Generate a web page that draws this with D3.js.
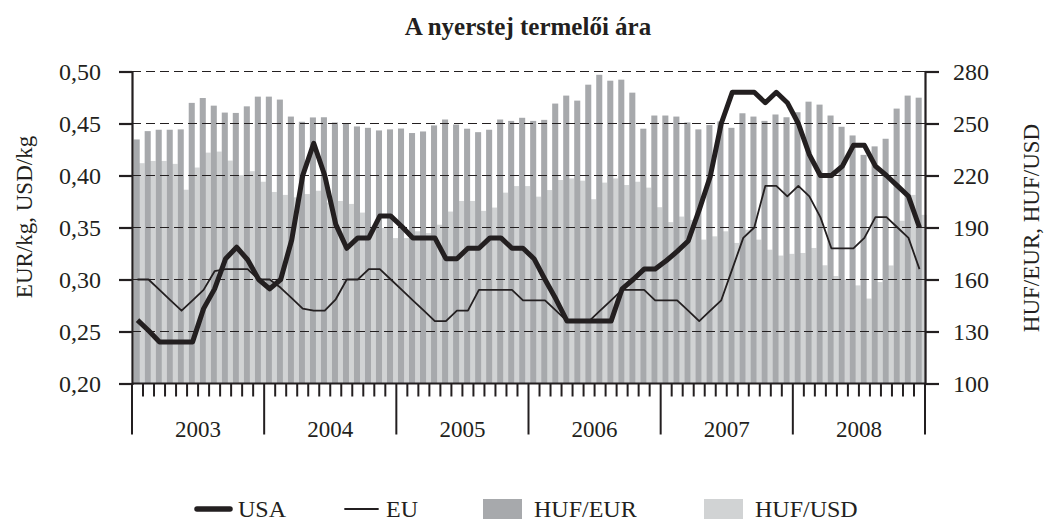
<!DOCTYPE html>
<html>
<head>
<meta charset="utf-8">
<script src="https://cdn.jsdelivr.net/npm/d3@7"></script>
<style>
  body { margin: 0; background: #fff; }
  text { font-family: "Liberation Serif", "Times New Roman", serif; fill: #231f20; }
</style>
</head>
<body>
<div id="chart"></div>
<script>
// years on the x axis, 12 months each
const years = ["2003", "2004", "2005", "2006", "2007", "2008"];

// milk producer price, left axis (EUR/kg, USD/kg)
const usa = [
  0.261, 0.251, 0.240, 0.240, 0.240, 0.240, 0.272, 0.291, 0.320, 0.331, 0.319, 0.300,
  0.291, 0.300, 0.338, 0.400, 0.431, 0.400, 0.353, 0.330, 0.340, 0.340, 0.361, 0.361,
  0.351, 0.340, 0.340, 0.340, 0.320, 0.320, 0.330, 0.330, 0.340, 0.340, 0.330, 0.330,
  0.320, 0.300, 0.281, 0.260, 0.260, 0.260, 0.260, 0.260, 0.291, 0.300, 0.310, 0.310,
  0.318, 0.327, 0.337, 0.367, 0.399, 0.450, 0.480, 0.480, 0.480, 0.470, 0.480, 0.470,
  0.450, 0.420, 0.400, 0.400, 0.409, 0.429, 0.429, 0.409, 0.400, 0.390, 0.380, 0.350
];
const eu = [
  0.300, 0.300, 0.290, 0.280, 0.270, 0.280, 0.290, 0.308, 0.310, 0.310, 0.310, 0.300,
  0.300, 0.292, 0.282, 0.272, 0.270, 0.270, 0.281, 0.300, 0.300, 0.310, 0.310, 0.300,
  0.290, 0.280, 0.270, 0.260, 0.260, 0.270, 0.270, 0.290, 0.290, 0.290, 0.290, 0.280,
  0.280, 0.280, 0.270, 0.260, 0.260, 0.260, 0.270, 0.280, 0.290, 0.290, 0.290, 0.280,
  0.280, 0.280, 0.270, 0.260, 0.270, 0.280, 0.310, 0.340, 0.350, 0.390, 0.390, 0.380,
  0.390, 0.380, 0.360, 0.330, 0.330, 0.330, 0.340, 0.360, 0.360, 0.350, 0.340, 0.310
];

// exchange rates, right axis
const hufEur = [
  240.8, 245.6, 246.4, 246.4, 246.6, 261.9, 264.7, 260.3, 256.3, 256.1, 259.9, 265.5,
  265.5, 263.8, 254.0, 251.0, 253.5, 253.6, 250.6, 249.8, 248.3, 247.5, 246.0, 246.6,
  247.1, 244.5, 245.4, 248.9, 252.3, 249.4, 247.0, 245.0, 246.4, 252.3, 251.5, 253.3,
  251.5, 252.1, 261.5, 266.1, 263.2, 272.4, 278.1, 274.7, 275.3, 267.8, 247.0, 254.6,
  254.6, 254.0, 250.6, 246.6, 249.1, 251.2, 247.5, 255.9, 254.0, 251.5, 255.2, 253.6,
  256.5, 262.6, 260.9, 254.6, 248.1, 243.1, 231.9, 236.8, 241.2, 258.6, 266.1, 264.9
];
const hufUsd = [
  227.1, 228.4, 228.4, 226.7, 211.8, 224.6, 233.2, 233.8, 228.6, 220.2, 222.5, 216.4,
  210.5, 208.8, 207.4, 209.3, 211.2, 204.4, 205.3, 203.6, 198.6, 189.7, 189.7, 183.9,
  183.9, 187.8, 186.8, 191.6, 199.2, 205.3, 205.3, 199.6, 201.5, 210.1, 213.9, 213.9,
  207.8, 211.6, 217.4, 218.3, 217.0, 206.3, 215.9, 218.3, 214.5, 216.4, 213.0, 201.7,
  193.1, 196.3, 194.4, 183.0, 184.9, 187.8, 181.1, 188.7, 183.0, 177.2, 173.8, 174.8,
  175.3, 178.2, 168.2, 162.0, 160.1, 156.6, 149.0, 158.5, 168.1, 193.9, 208.8, 197.3
];

const leftTicks = [0.20, 0.25, 0.30, 0.35, 0.40, 0.45, 0.50];
const rightTicks = [100, 130, 160, 190, 220, 250, 280];

const ink = "#231f20";
const width = 1046, height = 521;
const margin = { top: 71.5, right: 121, bottom: 137.5, left: 132 };
const innerWidth = width - margin.left - margin.right;
const innerHeight = height - margin.top - margin.bottom;

const svg = d3.select("#chart").append("svg")
  .attr("width", width)
  .attr("height", height);

const chart = svg.append("g")
  .attr("transform", `translate(${margin.left},${margin.top})`);

const months = d3.range(usa.length);

// scales
const x = d3.scaleBand().domain(months).range([0, innerWidth]).padding(0);
const step = x.step();
const yL = d3.scaleLinear().domain([0.20, 0.50]).range([innerHeight, 0]);
const yR = d3.scaleLinear().domain([100, 280]).range([innerHeight, 0]);

// bars: light HUF/USD behind, dark HUF/EUR in front
chart.append("g").selectAll("rect")
  .data(hufUsd)
  .join("rect")
  .attr("x", (d, i) => x(i) + step * 0.3)
  .attr("width", step * 0.85)
  .attr("y", d => yR(d))
  .attr("height", d => innerHeight - yR(d))
  .attr("fill", "#d1d3d4");

chart.append("g").selectAll("rect")
  .data(hufEur)
  .join("rect")
  .attr("x", (d, i) => x(i) + step * 0.15)
  .attr("width", step * 0.55)
  .attr("y", d => yR(d))
  .attr("height", d => innerHeight - yR(d))
  .attr("fill", "#a7a9ac");

// dashed grid
chart.append("g").selectAll("line")
  .data(leftTicks.slice(1))
  .join("line")
  .attr("x1", 0).attr("x2", innerWidth)
  .attr("y1", d => yL(d)).attr("y2", d => yL(d))
  .attr("stroke", ink)
  .attr("stroke-width", 1.2)
  .attr("stroke-dasharray", "9,5");

// lines
const line = (vals) => d3.line()
  .x((d, i) => x(i) + step / 2)
  .y(d => yL(d))(vals);

chart.append("path")
  .attr("d", line(eu))
  .attr("fill", "none")
  .attr("stroke", ink)
  .attr("stroke-width", 1.8)
  .attr("stroke-linejoin", "round");

chart.append("path")
  .attr("d", line(usa))
  .attr("fill", "none")
  .attr("stroke", ink)
  .attr("stroke-width", 5)
  .attr("stroke-linejoin", "round");

// axes
const fmt = d => d.toFixed(2).replace(".", ",");

const leftAxis = chart.append("g")
  .call(d3.axisLeft(yL).tickValues(leftTicks).tickFormat(fmt).tickSize(13).tickPadding(18));

const rightAxis = chart.append("g")
  .attr("transform", `translate(${innerWidth},0)`)
  .call(d3.axisRight(yR).tickValues(rightTicks).tickSize(14).tickPadding(14));

[leftAxis, rightAxis].forEach(g => {
  g.select(".domain").attr("stroke", ink).attr("stroke-width", 2.2);
  g.selectAll(".tick line").attr("stroke", ink).attr("stroke-width", 2.2);
  g.selectAll(".tick text")
    .attr("font-size", 24)
    .attr("font-family", "Liberation Serif")
    .attr("fill", ink);
});

// bottom axis line and month / year ticks
chart.append("line")
  .attr("x1", 0).attr("x2", innerWidth)
  .attr("y1", innerHeight).attr("y2", innerHeight)
  .attr("stroke", ink).attr("stroke-width", 2.2);

const bounds = d3.range(usa.length + 1);
chart.append("g").selectAll("line")
  .data(bounds)
  .join("line")
  .attr("x1", i => i === usa.length ? innerWidth : x(i))
  .attr("x2", i => i === usa.length ? innerWidth : x(i))
  .attr("y1", innerHeight)
  .attr("y2", i => i % 12 === 0 ? innerHeight + 51 : innerHeight + 13)
  .attr("stroke", ink)
  .attr("stroke-width", 2);

chart.append("g").selectAll("text")
  .data(years)
  .join("text")
  .attr("x", (d, i) => x(i * 12) + step * 6)
  .attr("y", innerHeight + 53)
  .attr("text-anchor", "middle")
  .attr("font-size", 23)
  .text(d => d);

// titles
svg.append("text")
  .attr("x", 528)
  .attr("y", 35)
  .attr("text-anchor", "middle")
  .attr("font-size", 25)
  .attr("font-weight", "bold")
  .text("A nyerstej termelői ára");

svg.append("text")
  .attr("transform", "translate(32,217) rotate(-90)")
  .attr("text-anchor", "middle")
  .attr("font-size", 23)
  .text("EUR/kg, USD/kg");

svg.append("text")
  .attr("transform", "translate(1039,228) rotate(-90)")
  .attr("text-anchor", "middle")
  .attr("font-size", 23)
  .text("HUF/EUR, HUF/USD");

// legend
const legend = svg.append("g").attr("transform", "translate(0,509)");
const items = [
  { label: "USA", type: "line", w: 5.5, x: 197 },
  { label: "EU", type: "line", w: 1.8, x: 345 },
  { label: "HUF/EUR", type: "rect", color: "#a7a9ac", x: 483 },
  { label: "HUF/USD", type: "rect", color: "#d1d3d4", x: 704 }
];
items.forEach(it => {
  if (it.type === "line") {
    legend.append("line")
      .attr("x1", it.x).attr("x2", it.x + 33)
      .attr("y1", 0).attr("y2", 0)
      .attr("stroke", ink)
      .attr("stroke-width", it.w)
      .attr("stroke-linecap", "round");
  } else {
    legend.append("rect")
      .attr("x", it.x).attr("y", -10)
      .attr("width", 39).attr("height", 20)
      .attr("fill", it.color);
  }
  legend.append("text")
    .attr("x", it.x + (it.type === "line" ? 41 : 51))
    .attr("y", 8)
    .attr("font-size", 24)
    .text(it.label);
});
</script>
</body>
</html>
